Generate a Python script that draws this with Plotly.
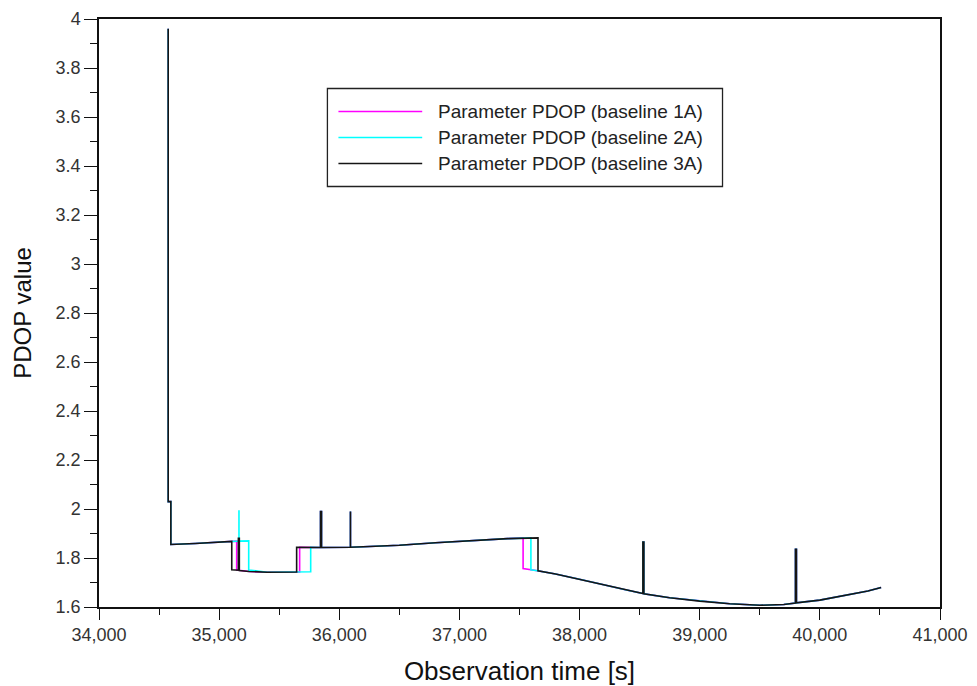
import plotly.graph_objects as go

# ---------------- data ----------------
series_names = ["Parameter PDOP (baseline 1A)",
                "Parameter PDOP (baseline 2A)",
                "Parameter PDOP (baseline 3A)"]
series_colors = ["#ff00ff", "#00ffff", "#151515"]

t_1a = [34576, 34576, 34598, 34598, 34800, 35000, 35146, 35146, 35250, 35400,
        35550, 35670, 35670, 35844, 35844, 35852, 35852, 36000, 36093, 36093,
        36093, 36200, 36500, 36800, 37100, 37400, 37530, 37530, 37650, 37800,
        38000, 38200, 38400, 38527, 38527, 38535, 38535, 38750, 39000, 39250,
        39500, 39700, 39797, 39797, 39805, 39805, 40000, 40200, 40400, 40510]
pdop_1a = [3.96, 2.03, 2.03, 1.855, 1.859, 1.865, 1.869, 1.751, 1.745, 1.742,
           1.742, 1.743, 1.844, 1.843, 1.99, 1.99, 1.843, 1.843, 1.844, 1.99,
           1.844, 1.846, 1.852, 1.862, 1.872, 1.879, 1.882, 1.757, 1.748, 1.735,
           1.713, 1.689, 1.668, 1.655, 1.865, 1.865, 1.654, 1.638, 1.624, 1.613,
           1.607, 1.610, 1.616, 1.835, 1.835, 1.617, 1.628, 1.645, 1.665, 1.680]

t_2a = [34576, 34576, 34598, 34598, 34800, 35000, 35165, 35165, 35165, 35246,
        35246, 35400, 35550, 35762, 35762, 35844, 35844, 35852, 35852, 36000,
        36093, 36093, 36093, 36200, 36500, 36800, 37100, 37400, 37595, 37595,
        37650, 37800, 38000, 38200, 38400, 38527, 38527, 38535, 38535, 38750,
        39000, 39250, 39500, 39700, 39797, 39797, 39805, 39805, 40000, 40200,
        40400, 40510]
pdop_2a = [3.96, 2.03, 2.03, 1.855, 1.859, 1.865, 1.869, 1.995, 1.869, 1.870,
           1.751, 1.742, 1.742, 1.744, 1.844, 1.843, 1.99, 1.99, 1.843, 1.843,
           1.844, 1.99, 1.844, 1.846, 1.852, 1.862, 1.872, 1.879, 1.882, 1.752,
           1.748, 1.735, 1.713, 1.689, 1.668, 1.655, 1.865, 1.865, 1.654, 1.638,
           1.624, 1.613, 1.607, 1.610, 1.616, 1.835, 1.835, 1.617, 1.628, 1.645,
           1.665, 1.680]

t_3a = [34576, 34576, 34598, 34598, 34800, 35000, 35105, 35105, 35160, 35160,
        35168, 35168, 35250, 35400, 35550, 35645, 35645, 35844, 35844, 35852,
        35852, 36000, 36093, 36093, 36093, 36200, 36500, 36800, 37100, 37400,
        37654, 37654, 37800, 38000, 38200, 38400, 38527, 38527, 38535, 38535,
        38750, 39000, 39250, 39500, 39700, 39797, 39797, 39805, 39805, 40000,
        40200, 40400, 40510]
pdop_3a = [3.96, 2.03, 2.03, 1.855, 1.859, 1.865, 1.868, 1.752, 1.750, 1.88,
           1.88, 1.749, 1.745, 1.742, 1.742, 1.743, 1.844, 1.843, 1.99, 1.99,
           1.843, 1.843, 1.844, 1.99, 1.844, 1.846, 1.852, 1.862, 1.872, 1.879,
           1.882, 1.748, 1.735, 1.713, 1.689, 1.668, 1.655, 1.865, 1.865, 1.654,
           1.638, 1.624, 1.613, 1.607, 1.610, 1.616, 1.835, 1.835, 1.617, 1.628,
           1.645, 1.665, 1.680]

x_range = [34000, 41000]
y_range = [1.6, 4.0]
x_title = "Observation time [s]"
y_title = "PDOP value"

# ---------------- figure ----------------
FONT = "Liberation Sans, Arial, sans-serif"
fig = go.Figure()
for t, v, name, col in zip([t_1a, t_2a, t_3a], [pdop_1a, pdop_2a, pdop_3a],
                           series_names, series_colors):
    fig.add_trace(go.Scatter(x=t, y=v, mode="lines", name=name,
                             line=dict(color=col, width=1.6),
                             showlegend=False))

# manual legend (long line samples as in the reference)
leg_x0, leg_x1, leg_y0, leg_y1 = 0.2716, 0.7414, 0.7151, 0.8818
fig.add_shape(type="rect", xref="paper", yref="paper",
              x0=leg_x0, x1=leg_x1, y0=leg_y0, y1=leg_y1,
              line=dict(color="#222", width=1.3), fillcolor="white", layer="above")
row_y = [0.8427, 0.7985, 0.7543]
for ry, name, col in zip(row_y, series_names, series_colors):
    fig.add_shape(type="line", xref="paper", yref="paper",
                  x0=0.2847, x1=0.3843, y0=ry, y1=ry,
                  line=dict(color=col, width=1.6), layer="above")
    fig.add_annotation(xref="paper", yref="paper", x=0.4009, y=ry,
                       text=name, showarrow=False, xanchor="left",
                       yanchor="middle",
                       font=dict(family=FONT, size=19, color="#222"))

# the page has an 8px body margin, so the plot box is shifted to compensate
fig.update_layout(
    width=977, height=686,
    margin=dict(l=91, r=45, t=11, b=87, autoexpand=False),
    paper_bgcolor="white", plot_bgcolor="white",
    font=dict(family=FONT, color="#333"),
)
fig.update_xaxes(
    range=x_range, dtick=1000, tick0=34000, tickformat=",d",
    showgrid=False, zeroline=False,
    showline=True, linecolor="#111", linewidth=1.5, mirror=True,
    ticks="outside", ticklen=11, tickwidth=1.3, tickcolor="#111",
    minor=dict(dtick=500, ticks="outside", ticklen=6, tickwidth=1.3,
               tickcolor="#111", showgrid=False),
    tickfont=dict(family=FONT, size=18, color="#333"),
    title=dict(text=x_title, font=dict(family=FONT, size=26, color="#111"),
               standoff=17),
    automargin=False,
)
fig.update_yaxes(
    range=y_range, dtick=0.2, tick0=1.6,
    showgrid=False, zeroline=False,
    showline=True, linecolor="#111", linewidth=1.5, mirror=True,
    ticks="outside", ticklen=13, tickwidth=1.3, tickcolor="#111",
    minor=dict(dtick=0.1, ticks="outside", ticklen=7, tickwidth=1.3,
               tickcolor="#111", showgrid=False),
    tickfont=dict(family=FONT, size=18, color="#333"),
    title=dict(text=y_title, font=dict(family=FONT, size=24, color="#111"),
               standoff=17),
    automargin=False,
)

fig.write_html("out.html")
